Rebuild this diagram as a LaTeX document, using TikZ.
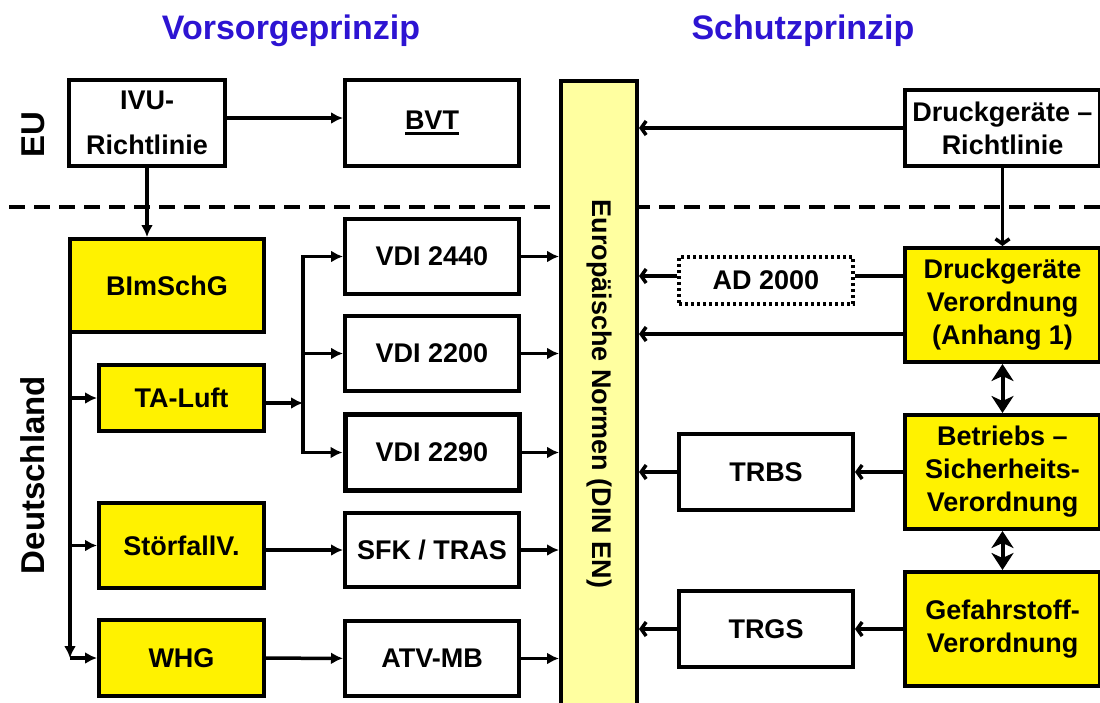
\documentclass[tikz,border=0pt]{standalone}
\usepackage{fontspec}
\setmainfont{Liberation Sans}
\usetikzlibrary{arrows.meta,positioning,calc}
\definecolor{titleblue}{RGB}{45,20,210}
\definecolor{normyellow}{RGB}{255,255,160}

\begin{document}
\begin{tikzpicture}[
    x=1pt, y=-1pt, line width=3.5pt,
    font=\fontsize{27}{33}\selectfont\bfseries,
    box/.style={draw, line width=4pt, fill=white, align=center, inner sep=0pt, minimum width=174pt, minimum height=76pt},
    law/.style={box, fill=yellow},
    arr/.style={-{Latex[length=12pt,width=12pt]}, line width=3.5pt},
    back/.style={-{Straight Barb[length=5pt,width=14pt]}, line width=3.5pt},
    both/.style={{Stealth[length=17pt,width=22pt,inset=5pt]}-{Stealth[length=17pt,width=22pt,inset=5pt]}, line width=4pt},
    side/.style={rotate=90, font=\fontsize{33}{33}\selectfont\bfseries},
    title/.style={text=titleblue, font=\fontsize{34}{34}\selectfont\bfseries},
]
\useasboundingbox (0,0) rectangle (1100,702);

% headings
\node[title] (vor) at (291,31) {Vorsorgeprinzip};
\node[title] (schutz) at (803,31) {Schutzprinzip};
\node[side] (eu) at (33,135) {EU};
\node[side] (de) at (33,475) {Deutschland};

% EU / Deutschland border
\coordinate (dl) at (9,207);
\coordinate (dr) at (1100,207);
\draw[line width=4pt, dash pattern=on 16pt off 9pt] (dl) -- (dr);

% norms bar
\node[draw, line width=4pt, fill=normyellow, minimum width=76pt, minimum height=627pt, inner sep=0pt] (en) at (599,394.5) {};
\node[rotate=-90] (entext) at (599,394) {Europäische Normen (DIN EN)};

% Vorsorgeprinzip
\node[box, minimum width=156pt, minimum height=86pt] (ivu) at (147,123) {IVU-\\[12pt]Richtlinie};
\node[box, minimum height=86pt] (bvt) at (432,123) {\vtop{\hbox{BVT}\kern3pt\hrule height 3pt}};
\node[law, minimum width=194pt, minimum height=93pt] (bimschg) at (167,285.5) {BImSchG};
\node[law, minimum width=165pt, minimum height=66pt] (taluft) at (181.5,398) {TA-Luft};
\node[law, minimum width=165pt, minimum height=85pt] (stoerfall) at (181.5,545.5) {StörfallV.};
\node[law, minimum width=165pt, minimum height=76pt] (whg) at (181.5,658) {WHG};
\node[box, minimum height=75pt] (vdia) at (432,256.5) {VDI 2440};
\node[box, minimum height=75pt] (vdib) at (432,353.5) {VDI 2200};
\node[box, line width=5pt, minimum height=76pt] (vdic) at (432,452.5) {VDI 2290};
\node[box, minimum height=74pt] (sfk) at (432,550) {SFK / TRAS};
\node[box, minimum height=75pt] (atv) at (432,658.5) {ATV-MB};

% Schutzprinzip
\node[box, minimum width=195pt] (dgr) at (1002.5,128) {Druckgeräte –\\Richtlinie};
\node[box, dash pattern=on 3pt off 3pt, minimum height=47pt] (ad) at (766,280.5) {AD 2000};
\node[law, minimum width=195pt, minimum height=114pt] (dv) at (1002.5,305) {Druckgeräte\\Verordnung\\(Anhang 1)};
\node[box] (trbs) at (766,472) {TRBS};
\node[law, minimum width=195pt, minimum height=114pt] (bsv) at (1002.5,472) {Betriebs –\\Sicherheits-\\Verordnung};
\node[box] (trgs) at (766,629) {TRGS};
\node[law, minimum width=195pt, minimum height=114pt] (gsv) at (1002.5,629) {Gefahrstoff-\\Verordnung};

% left side connectors
\draw[arr] ([yshift=5pt]ivu.east) -- ([yshift=5pt]bvt.west);
\draw[arr] (ivu) -- (bimschg.north -| ivu);
\coordinate (bend) at ([xshift=2pt]bimschg.west |- whg);
\draw[arr] ([xshift=2pt]bimschg.south west) -- (bend);
\draw[arr] (bend |- taluft) -- (taluft);
\draw[arr] (bend |- stoerfall) -- (stoerfall);
\draw[arr] (bend) -- (whg);
\coordinate (fork) at (303,403);
\draw[arr] ([yshift=-5pt]taluft.east) -- (fork);
\draw[arr] (fork) |- (vdia);
\draw[arr] (fork) |- (vdib);
\draw[arr] (fork) |- (vdic);
\draw[arr] (stoerfall.east |- sfk) -- (sfk);
\draw[arr] (whg) -- (atv);
\foreach \n in {vdia,vdib,vdic,sfk,atv}
  \draw[arr] (\n) -- (\n -| en.west);

% right side connectors
\draw[back] (dgr) -- (dgr -| en.east);
\draw[back] (dgr) -- (dv);
\draw ([yshift=4.5pt]ad.east) -- ([yshift=4.5pt]ad.east -| dv.west);
\draw[back] ([yshift=4.5pt]ad.west) -- ([yshift=4.5pt]ad.west -| en.east);
\draw[back] ([yshift=-29pt]dv.west) -- ([yshift=-29pt]dv.west -| en.east);
\draw[back] (bsv) -- (trbs);
\draw[back] (trbs) -- (trbs -| en.east);
\draw[back] (gsv) -- (trgs);
\draw[back] (trgs) -- (trgs -| en.east);
\draw[both] (dv) -- (bsv);
\draw[both] (bsv) -- (gsv);
\end{tikzpicture}
\end{document}
